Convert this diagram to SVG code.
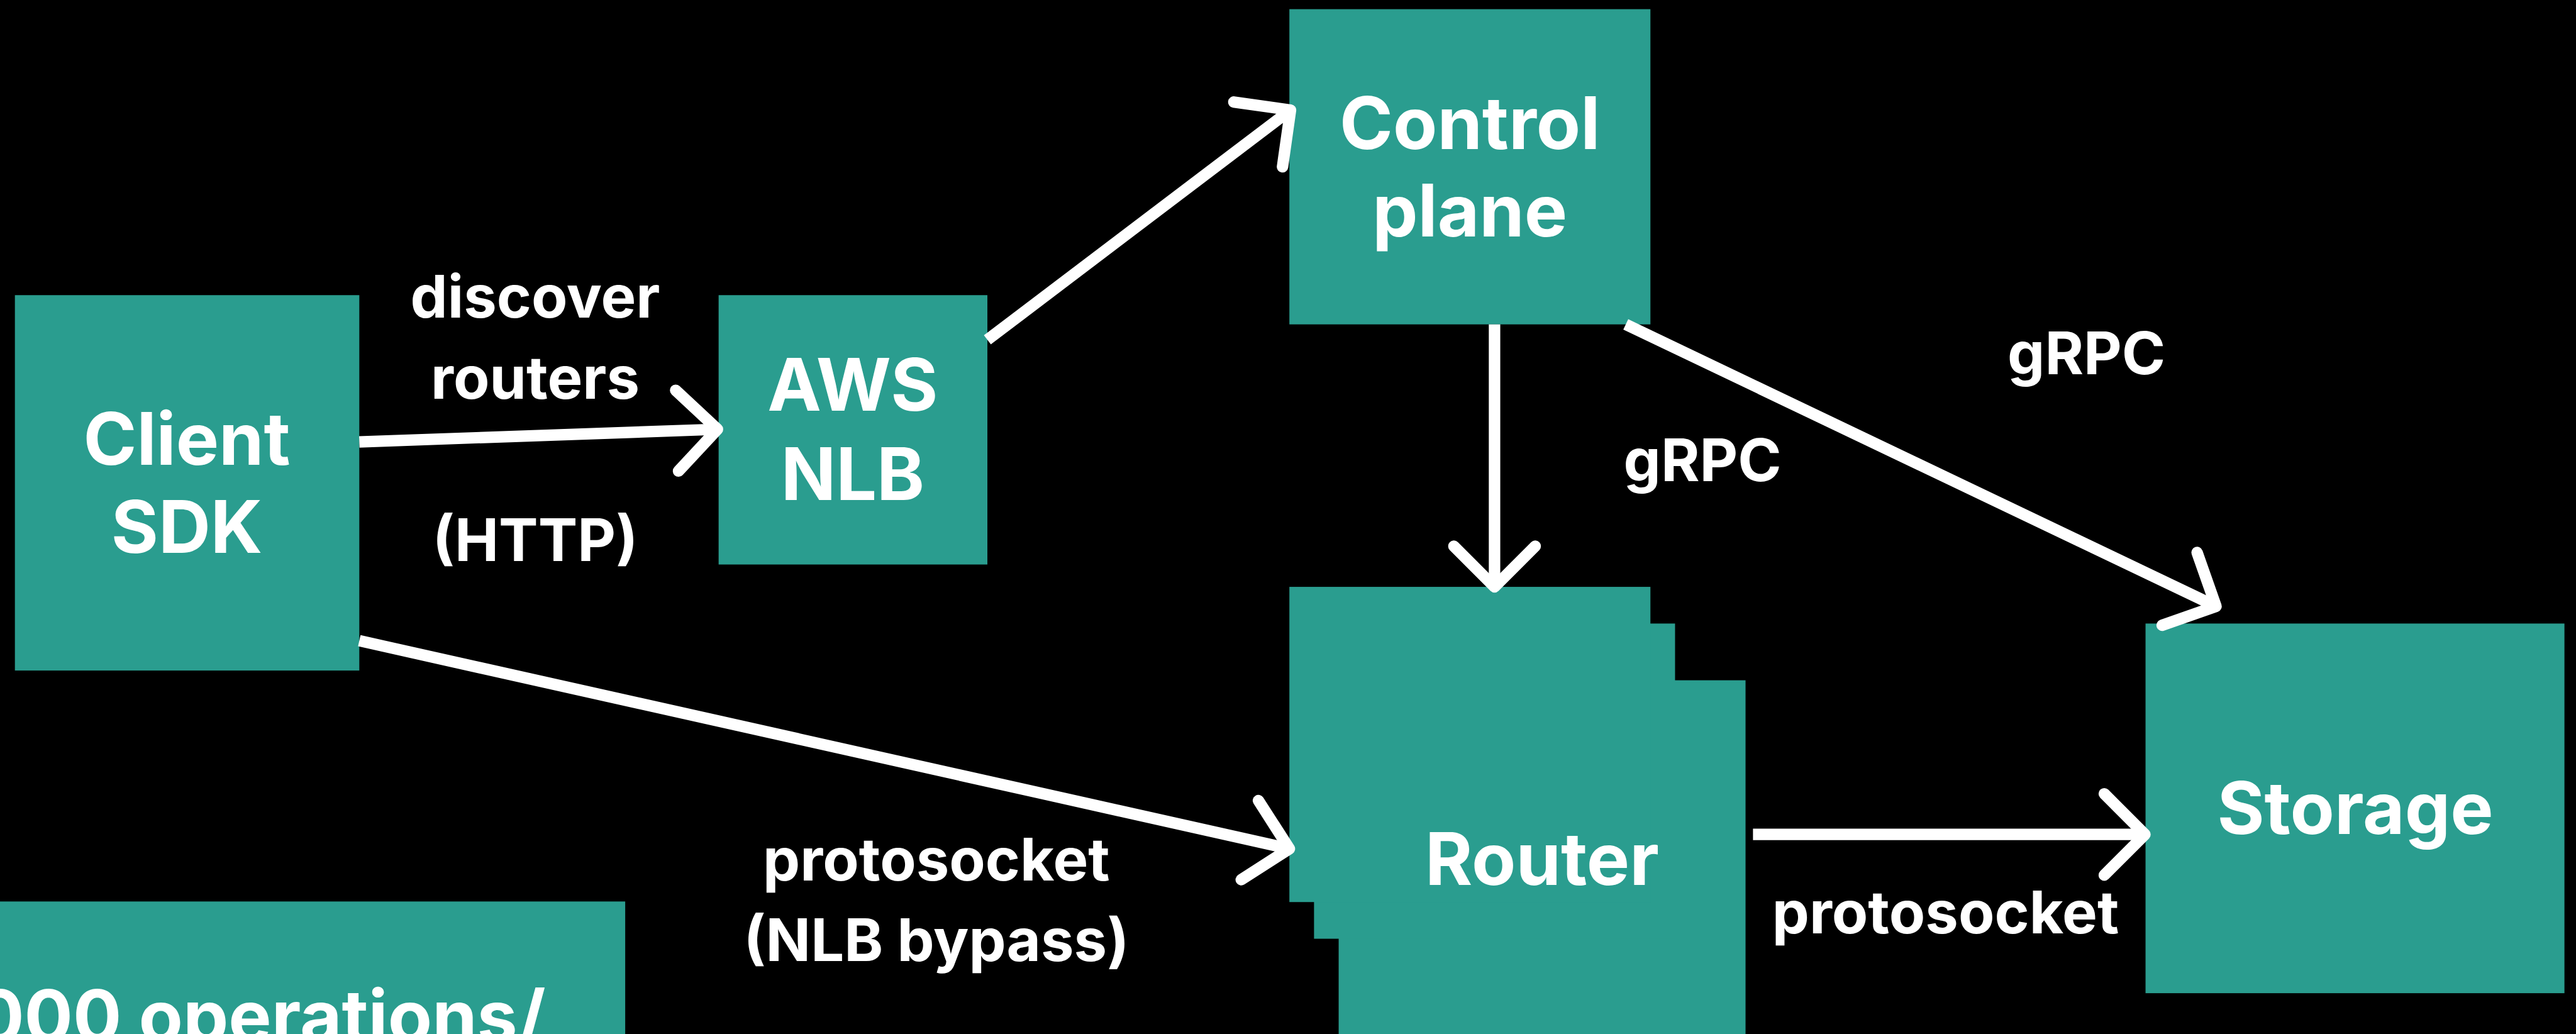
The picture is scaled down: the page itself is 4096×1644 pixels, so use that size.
<svg xmlns="http://www.w3.org/2000/svg" width="4096" height="1644" viewBox="0 0 4096 1644">
<style>
.node{fill:#2a9d8f}
.nt{font-family:Inter,"Liberation Sans",sans-serif;font-weight:700;font-size:126px;fill:#fff;text-anchor:middle}
.lt{font-family:Inter,"Liberation Sans",sans-serif;font-weight:700;font-size:103px;fill:#fff;text-anchor:middle}
.shaft{fill:none;stroke:#fff;stroke-width:20;stroke-linecap:butt}
.head{fill:none;stroke:#fff;stroke-width:20;stroke-linecap:round;stroke-linejoin:round}
</style>
<rect x="0" y="0" width="4096" height="1644" fill="#000"/>
<g transform="scale(0.9112)">
<g id="client-sdk">
<rect class="node" x="26" y="515" width="601" height="655"/>
<text class="nt" x="326" y="811">Client</text>
<text class="nt" x="326" y="965">SDK</text>
</g>
<g id="aws-nlb">
<rect class="node" x="1254" y="515" width="469" height="470"/>
<text class="nt" x="1488" y="717">AWS</text>
<text class="nt" x="1488" y="872">NLB</text>
</g>
<g id="control-plane">
<rect class="node" x="2250" y="16" width="630" height="550"/>
<text class="nt" x="2565" y="260">Control</text>
<text class="nt" x="2565" y="413">plane</text>
</g>
<g id="router">
<rect class="node" x="2336" y="1187" width="710" height="630"/>
<rect class="node" x="2293" y="1088" width="630" height="550"/>
<rect class="node" x="2250" y="1024" width="630" height="550"/>
<text class="nt" x="2691" y="1544">Router</text>
</g>
<g id="storage">
<rect class="node" x="3744" y="1088" width="731" height="645"/>
<text class="nt" x="4110" y="1455">Storage</text>
</g>
<g id="throughput">
<rect class="node" x="-20" y="1573" width="1111" height="250"/>
<text class="nt" x="952" y="1819" style="text-anchor:end">000 operations/</text>
</g>
<g id="connectors">
<line class="shaft" x1="627" y1="771" x2="1252" y2="749"/>
<polyline class="head" points="1179,681 1252,749 1184,822"/>
<line class="shaft" x1="1723" y1="593" x2="2252" y2="192"/>
<polyline class="head" points="2153,178 2252,192 2238,291"/>
<line class="shaft" x1="2608" y1="566" x2="2608" y2="1024"/>
<polyline class="head" points="2537,953 2608,1024 2679,953"/>
<line class="shaft" x1="2837" y1="566" x2="3867" y2="1058"/>
<polyline class="head" points="3834,964 3867,1058 3773,1091"/>
<line class="shaft" x1="627" y1="1118" x2="2250" y2="1481"/>
<polyline class="head" points="2196,1397 2250,1481 2166,1535"/>
<line class="shaft" x1="3059" y1="1456" x2="3743" y2="1456"/>
<polyline class="head" points="3672,1385 3743,1456 3672,1527"/>
<text class="lt" x="934" y="554">discover</text>
<text class="lt" x="934" y="696">routers</text>
<text class="lt" x="934" y="979">(HTTP)</text>
<text class="lt" x="2971" y="840">gRPC</text>
<text class="lt" x="3641" y="653">gRPC</text>
<text class="lt" x="3395" y="1629">protosocket</text>
<text class="lt" x="1634" y="1536">protosocket</text>
<text class="lt" x="1634" y="1677">(NLB bypass)</text>
</g>
</g>
</svg>
